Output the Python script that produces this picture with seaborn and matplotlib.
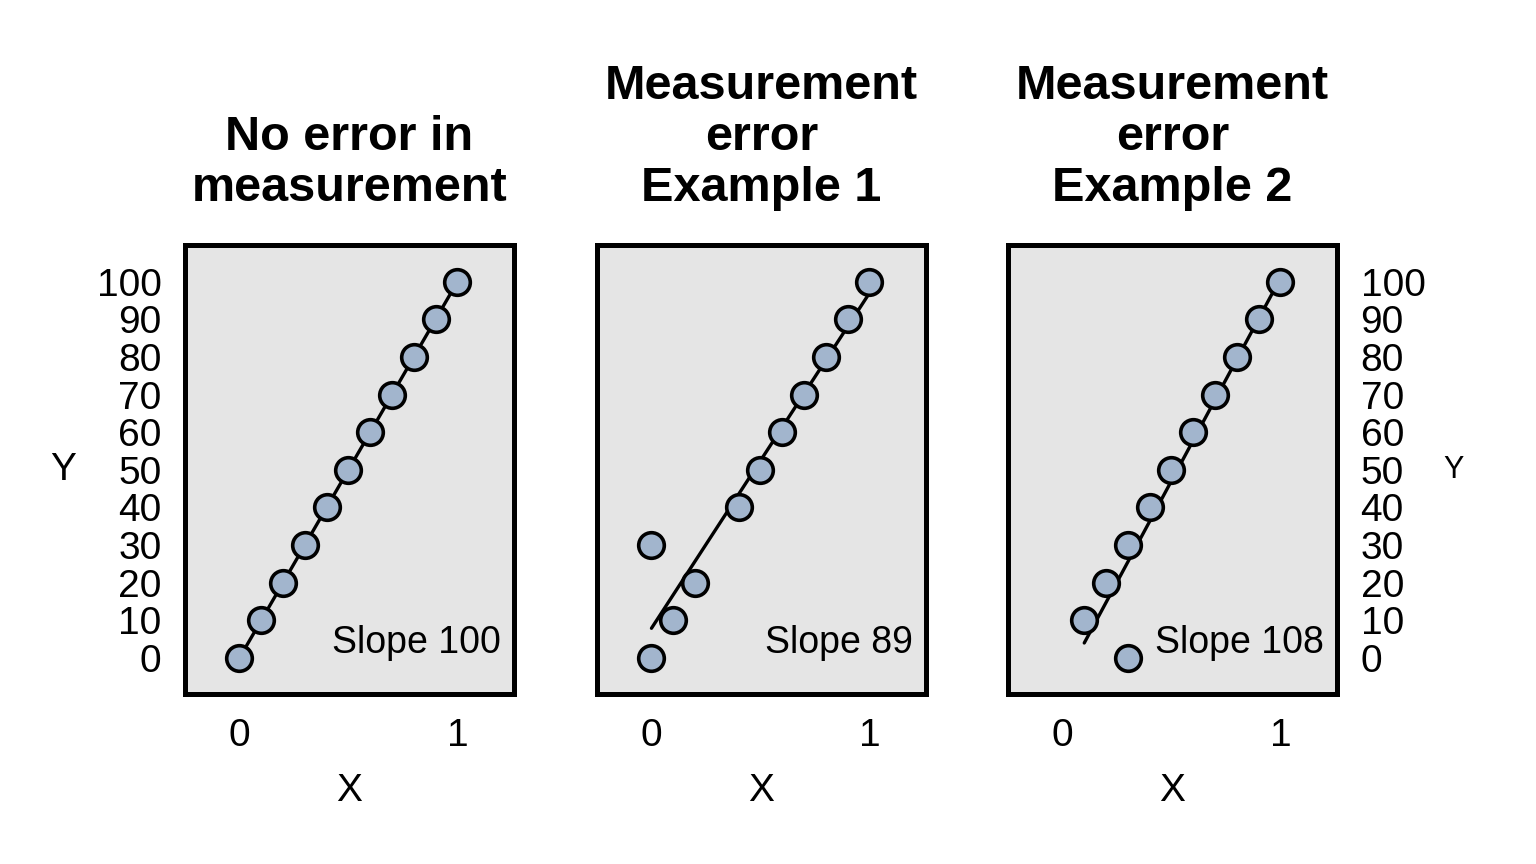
import matplotlib
matplotlib.use("Agg")
import matplotlib.pyplot as plt
import seaborn as sns
import pandas as pd

sns.set_theme(style="white")
plt.rcParams['font.family'] = ['Liberation Sans', 'DejaVu Sans']

titles = ["No error in\nmeasurement", "Measurement\nerror\nExample 1", "Measurement\nerror\nExample 2"]
x1 = [0, 0.1, 0.2, 0.3, 0.4, 0.5, 0.6, 0.7, 0.8, 0.9, 1.0]
y1 = [0, 10, 20, 30, 40, 50, 60, 70, 80, 90, 100]
x2 = [0, 0, 0.1, 0.2, 0.4, 0.5, 0.6, 0.7, 0.8, 0.9, 1.0]
y2 = [0, 30, 10, 20, 40, 50, 60, 70, 80, 90, 100]
x3 = [0.1, 0.2, 0.3, 0.3, 0.4, 0.5, 0.6, 0.7, 0.8, 0.9, 1.0]
y3 = [10, 20, 0, 30, 40, 50, 60, 70, 80, 90, 100]
slope_labels = ["Slope 100", "Slope 89", "Slope 108"]
yticks = [0, 10, 20, 30, 40, 50, 60, 70, 80, 90, 100]
xticks = [0, 1]

datasets = [(x1, y1), (x2, y2), (x3, y3)]

fig = plt.figure(figsize=(15.36, 8.64), dpi=100)
W, H = 1536, 864
lefts = [185, 597, 1008]
aw, ah = 329, 449
top = 245

fill = "#A2B5CD"
bg = "#E5E5E5"

for i, ((xs, ys), title, sl) in enumerate(zip(datasets, titles, slope_labels)):
    ax = fig.add_axes([lefts[i] / W, 1 - (top + ah) / H, aw / W, ah / H])
    ax.set_facecolor(bg)
    df = pd.DataFrame({"X": xs, "Y": ys})
    sns.regplot(data=df, x="X", y="Y", ax=ax, scatter=False, ci=None, truncate=True,
                line_kws=dict(color="black", lw=2.4, zorder=2))
    sns.scatterplot(data=df, x="X", y="Y", ax=ax, s=340, color=fill,
                    edgecolor="black", linewidth=2.6, zorder=3, legend=False)
    ax.set_xlim(-0.25, 1.26)
    ax.set_ylim(-9.6, 109.8)
    ax.set_xticks(xticks)
    ax.set_xticklabels([str(t) for t in xticks])
    ax.tick_params(axis='both', length=0, pad=17, labelsize=28, colors="black")
    for sp in ax.spines.values():
        sp.set_visible(True)
        sp.set_color("black")
        sp.set_linewidth(3.6)
    ax.set_xlabel("X", fontsize=28, labelpad=14, color="black")
    ax.set_title(title, fontsize=35, fontweight="bold", pad=32, linespacing=1.16, color="black")
    ax.text(1.2, 1.3, sl, ha="right", va="baseline", fontsize=27, color="black")
    if i == 0:
        ax.set_yticks(yticks)
        ax.set_yticklabels([str(t) for t in yticks])
        ax.set_ylabel("Y", fontsize=28, rotation=0, labelpad=24, va="center", color="black")
    elif i == 1:
        ax.set_yticks(yticks)
        ax.set_yticklabels([])
        ax.set_ylabel("")
    else:
        ax.set_yticks(yticks)
        ax.yaxis.tick_right()
        ax.yaxis.set_label_position("right")
        ax.set_yticklabels([str(t) for t in yticks])
        ax.tick_params(axis='y', labelleft=False, labelright=True)
        ax.set_ylabel("Y", fontsize=22, rotation=0, labelpad=20, va="center", color="black")

fig.savefig("out.png", dpi=100, facecolor="white")
